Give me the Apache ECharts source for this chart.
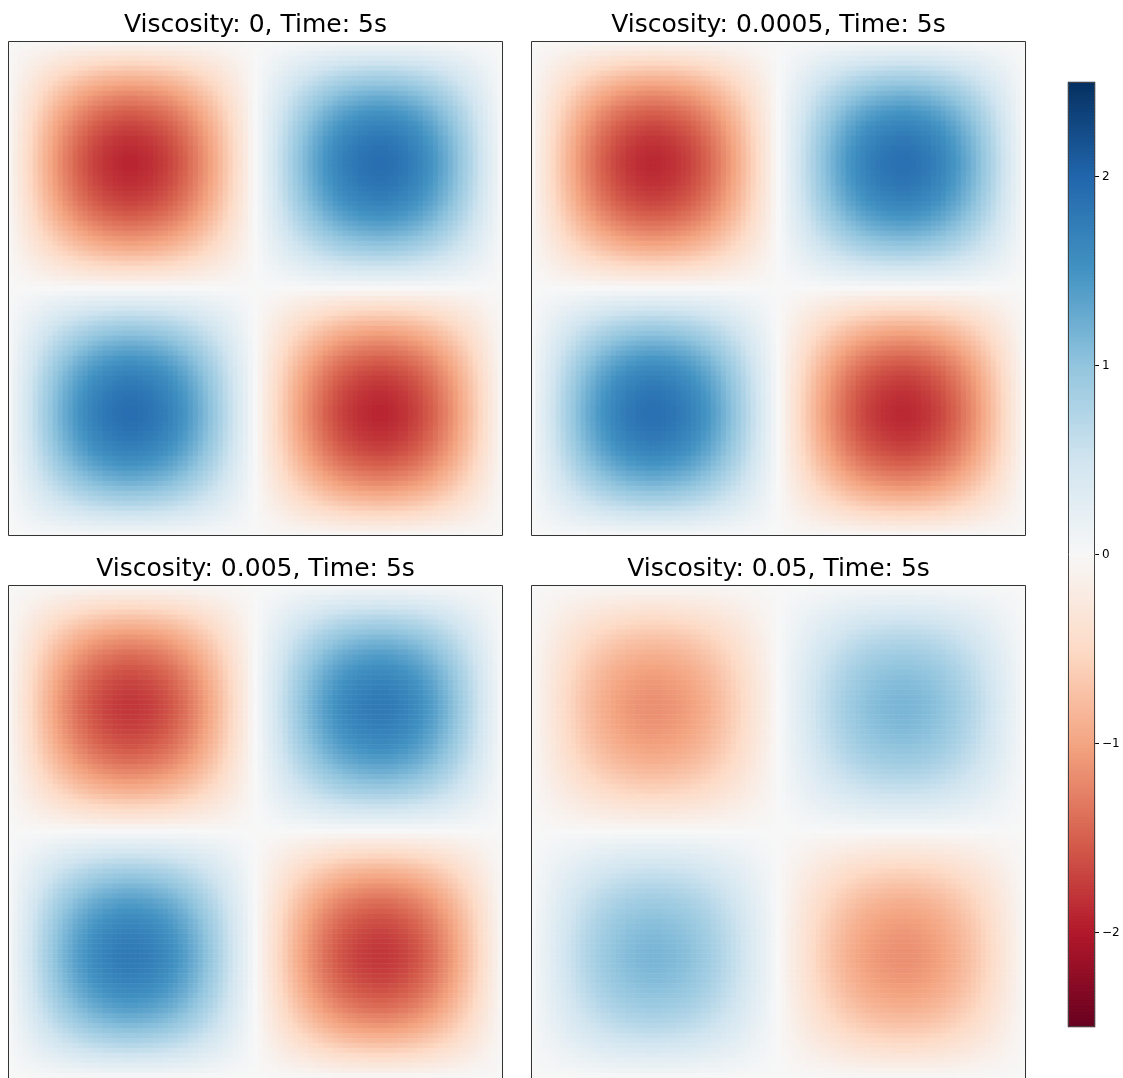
<!DOCTYPE html>
<html>
<head>
<meta charset="utf-8">
<script src="https://cdn.jsdelivr.net/npm/echarts@6/dist/echarts.min.js"></script>
<style>
html,body{margin:0;padding:0;background:#fff;}
#chart{width:1123px;height:1078px;}
</style>
</head>
<body>
<div id="chart"></div>
<script>
// Panel titles
var titles = ['Viscosity: 0, Time: 5s', 'Viscosity: 0.0005, Time: 5s', 'Viscosity: 0.005, Time: 5s', 'Viscosity: 0.05, Time: 5s'];
// Peak vorticity amplitude (colour at the blob centres)
var amplitudes = [1.9, 1.88, 1.78, 1.15];
// Profile across the domain (99 cells): one full wave
var profile = [0.03,0.10,0.16,0.22,0.28,0.34,0.40,0.46,0.51,0.57,0.62,0.67,0.71,0.76,0.80,0.83,0.87,0.90,0.92,0.95,0.96,0.98,0.99,1.00,1.00,
  1.00,0.99,0.98,0.97,0.95,0.93,0.91,0.88,0.85,0.81,0.78,0.73,0.69,0.64,0.59,0.54,0.49,0.43,0.37,0.31,0.25,0.19,0.13,0.06,0.00,
  -0.06,-0.13,-0.19,-0.25,-0.31,-0.37,-0.43,-0.49,-0.54,-0.59,-0.64,-0.69,-0.73,-0.78,-0.81,-0.85,-0.88,-0.91,-0.93,-0.95,-0.97,-0.98,-0.99,-1.00,
  -1.00,-1.00,-0.99,-0.98,-0.96,-0.95,-0.92,-0.90,-0.87,-0.83,-0.80,-0.76,-0.71,-0.67,-0.62,-0.57,-0.51,-0.46,-0.40,-0.34,-0.28,-0.22,-0.16,-0.10,-0.03];
// Colour bar range and ticks
var cbMin = -2.5, cbMax = 2.5;
var cbTicks = [-2, -1, 0, 1, 2];
var RdBu = ['#67001f','#b2182b','#d6604d','#f4a582','#fddbc7','#f7f7f7','#d1e5f0','#92c5de','#4393c3','#2166ac','#053061'];

var N = profile.length;
var cells = [];
for (var i = 0; i < N; i++) cells.push(i);

var grids = [
  {left: 8, top: 41, width: 495, height: 495},
  {left: 531, top: 41, width: 495, height: 495},
  {left: 8, top: 585, width: 495, height: 495},
  {left: 531, top: 585, width: 495, height: 495}
];
var cbGrid = {left: 1068, top: 82, width: 27, height: 945};

var xAxes = [], yAxes = [], series = [], graphics = [];
grids.forEach(function (g, k) {
  xAxes.push({type: 'category', gridIndex: k, data: cells, show: false});
  yAxes.push({type: 'category', gridIndex: k, data: cells, inverse: true, show: false});
  var data = [];
  for (var ix = 0; ix < N; ix++) {
    for (var iy = 0; iy < N; iy++) {
      data.push([ix, iy, -amplitudes[k] * profile[ix] * profile[iy]]);
    }
  }
  series.push({type: 'heatmap', xAxisIndex: k, yAxisIndex: k, data: data, progressive: 0, emphasis: {disabled: true}});
  graphics.push({type: 'rect', z: 100, silent: true,
    shape: {x: g.left + 0.5, y: g.top + 0.5, width: g.width - 1, height: g.height - 1},
    style: {fill: 'none', stroke: '#333', lineWidth: 1}});
  graphics.push({type: 'text', z: 100, silent: true,
    style: {x: g.left + g.width / 2, y: g.top - 16, text: titles[k], fill: '#000',
      font: '25px "DejaVu Sans"', textAlign: 'center', textVerticalAlign: 'middle'}});
});

// colour bar
var NL = 315, levels = [], cbData = [];
for (var L = 0; L < NL; L++) {
  levels.push(L);
  cbData.push([0, L, cbMin + (L + 0.5) * (cbMax - cbMin) / NL]);
}
var allGrids = grids.concat([cbGrid]);
xAxes.push({type: 'category', gridIndex: 4, data: ['cb'], show: false});
yAxes.push({type: 'category', gridIndex: 4, data: levels, show: false});
yAxes.push({type: 'value', gridIndex: 4, min: cbMin, max: cbMax, position: 'right',
  axisLine: {show: false}, splitLine: {show: false},
  axisTick: {show: true, length: 4, customValues: cbTicks, lineStyle: {color: '#000', width: 1}},
  axisLabel: {show: true, customValues: cbTicks, margin: 7, color: '#000', fontSize: 12, fontFamily: 'DejaVu Sans',
    formatter: function (v) { return v < 0 ? '\u2212' + (-v) : String(v); }}});
series.push({type: 'heatmap', xAxisIndex: 4, yAxisIndex: 4, data: cbData, progressive: 0, emphasis: {disabled: true}});
graphics.push({type: 'rect', z: 100, silent: true,
  shape: {x: cbGrid.left + 0.5, y: cbGrid.top + 0.5, width: cbGrid.width - 1, height: cbGrid.height - 1},
  style: {fill: 'none', stroke: '#444', lineWidth: 1}});

var chart = echarts.init(document.getElementById('chart'), null, {renderer: 'canvas'});
chart.setOption({
  animation: false,
  backgroundColor: '#fff',
  grid: allGrids,
  xAxis: xAxes,
  yAxis: yAxes,
  visualMap: {type: 'continuous', show: false, min: cbMin, max: cbMax, dimension: 2,
    seriesIndex: [0, 1, 2, 3, 4], inRange: {color: RdBu}},
  series: series,
  graphic: graphics
});
</script>
</body>
</html>
